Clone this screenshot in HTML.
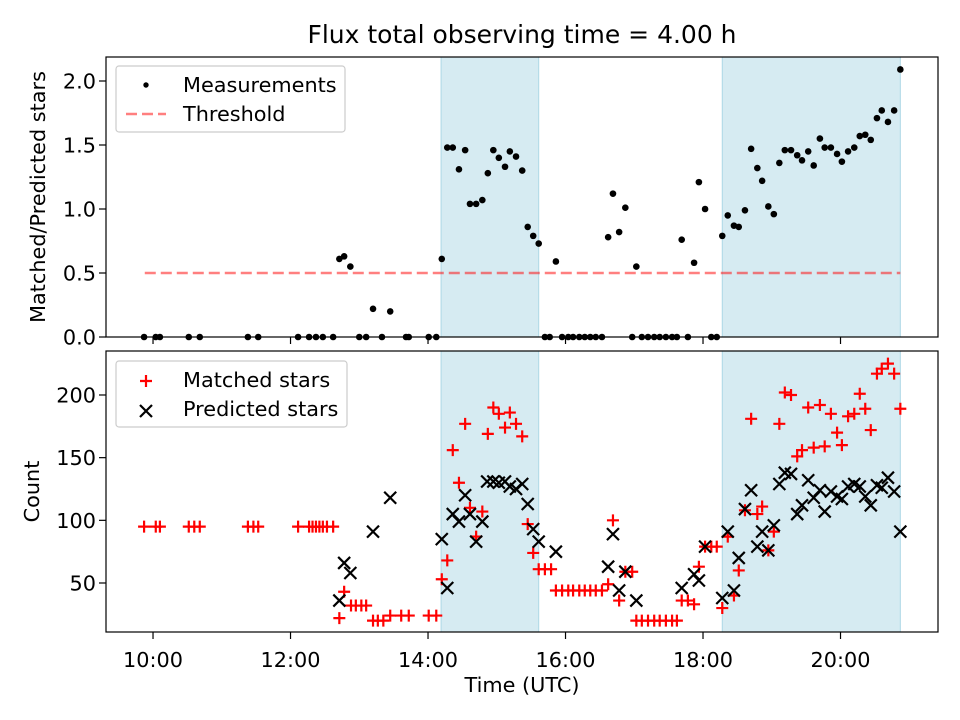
<!DOCTYPE html>
<html><head><meta charset="utf-8"><style>
body{margin:0;background:#fff}
svg{display:block;font-family:"DejaVu Sans","Liberation Sans",sans-serif}
</style></head><body>
<svg id="chart" width="960" height="720" viewBox="0 0 960 720"></svg>
<script>
const ratioTimes=[9.87,10.04,10.10,10.52,10.68,11.38,11.53,12.11,12.27,12.37,12.47,12.62,12.71,12.78,12.87,13.00,13.10,13.20,13.33,13.45,13.68,13.72,14.01,14.12,14.20,14.28,14.36,14.45,14.54,14.61,14.70,14.79,14.87,14.95,15.03,15.12,15.19,15.28,15.37,15.45,15.53,15.61,15.70,15.77,15.86,15.95,16.04,16.11,16.20,16.28,16.36,16.44,16.53,16.62,16.69,16.78,16.87,16.97,17.03,17.11,17.20,17.29,17.37,17.46,17.55,17.62,17.69,17.78,17.87,17.94,18.03,18.12,18.20,18.28,18.36,18.45,18.52,18.61,18.70,18.79,18.86,18.95,19.03,19.11,19.19,19.28,19.37,19.44,19.53,19.61,19.70,19.77,19.86,19.95,20.02,20.11,20.20,20.28,20.36,20.44,20.53,20.60,20.69,20.78,20.87];
const ratioValues=[0,0,0,0,0,0,0,0,0,0,0,0,0.61,0.63,0.55,0,0,0.22,0,0.20,0,0,0,0,0.61,1.48,1.48,1.31,1.46,1.04,1.04,1.07,1.28,1.46,1.40,1.33,1.45,1.41,1.30,0.86,0.79,0.73,0,0,0.59,0,0,0,0,0,0,0,0,0.78,1.12,0.82,1.01,0,0.55,0,0,0,0,0,0,0,0.76,0,0.58,1.21,1.00,0,0,0.79,0.95,0.87,0.86,0.99,1.47,1.32,1.22,1.02,0.96,1.36,1.46,1.46,1.42,1.38,1.45,1.34,1.55,1.48,1.48,1.43,1.37,1.45,1.48,1.57,1.58,1.54,1.71,1.77,1.68,1.77,2.09];
const matchedTimes=[9.87,10.04,10.10,10.52,10.60,10.68,11.38,11.46,11.53,12.11,12.27,12.32,12.37,12.42,12.47,12.53,12.62,12.71,12.78,12.88,12.95,13.03,13.10,13.20,13.27,13.35,13.45,13.61,13.72,14.01,14.12,14.20,14.28,14.36,14.45,14.54,14.61,14.70,14.79,14.87,14.95,15.03,15.12,15.19,15.28,15.37,15.45,15.53,15.61,15.70,15.79,15.86,15.95,16.04,16.11,16.20,16.28,16.36,16.44,16.53,16.62,16.69,16.78,16.87,16.97,17.03,17.11,17.20,17.29,17.37,17.46,17.55,17.62,17.69,17.78,17.87,17.94,18.03,18.12,18.20,18.28,18.36,18.45,18.52,18.61,18.70,18.79,18.86,18.95,19.03,19.11,19.19,19.28,19.37,19.44,19.53,19.61,19.70,19.77,19.86,19.95,20.02,20.11,20.20,20.28,20.36,20.44,20.53,20.60,20.69,20.78,20.87];
const matchedValues=[95,95,95,95,95,95,95,95,95,95,95,95,95,95,95,95,95,22,43,32,32,32,32,20,20,20,24,24,24,24,24,53,68,156,130,177,110,87,107,169,190,185,174,186,177,167,97,74,61,61,61,44,44,44,44,44,44,44,44,44,49,100,36,59,59,20,20,20,20,20,20,20,20,36,36,33,63,79,79,79,30,87,40,60,108,181,105,111,76,91,177,202,200,151,156,190,158,192,159,185,170,160,183,185,201,189,172,217,221,225,217,189];
const predictedTimes=[12.71,12.78,12.87,13.20,13.45,14.20,14.28,14.36,14.45,14.54,14.61,14.70,14.79,14.86,14.95,15.03,15.12,15.19,15.28,15.37,15.45,15.53,15.61,15.86,16.62,16.69,16.78,16.87,17.03,17.69,17.87,17.94,18.03,18.28,18.36,18.45,18.52,18.61,18.70,18.79,18.86,18.95,19.03,19.11,19.19,19.28,19.37,19.44,19.53,19.61,19.70,19.77,19.86,19.95,20.02,20.11,20.20,20.28,20.36,20.44,20.53,20.60,20.69,20.78,20.87];
const predictedValues=[36,66,58,91,118,85,46,105,99,120,105,83,99,131,131,130,131,127,125,129,113,93,83,75,63,89,44,59,36,46,57,52,79,38,91,44,70,109,124,79,91,76,96,129,138,137,105,112,132,118,124,107,123,119,117,127,129,127,119,112,128,126,134,123,91];
const shadeRanges=[[14.19,15.61],[18.28,20.87]];
const thresholdValue=0.5, thresholdRange=[9.88,20.87];
const xTicks=[10,12,14,16,18,20];
const xTickLabels=["10:00","12:00","14:00","16:00","18:00","20:00"];
const topYTicks=[0,0.5,1,1.5,2];
const topYTickLabels=["0.0","0.5","1.0","1.5","2.0"];
const botYTicks=[50,100,150,200];
const botYTickLabels=["50","100","150","200"];

const NS="http://www.w3.org/2000/svg";
const svg=document.getElementById('chart');
function mk(tag,attrs,parent,text){const e=document.createElementNS(NS,tag);for(const k in attrs)e.setAttribute(k,attrs[k]);if(text!==undefined)e.textContent=text;(parent||svg).appendChild(e);return e;}
const L=106,R=938;
const FS=20.8;
const xDom=[9.316,21.418];
function xs(t){return L+(t-xDom[0])/(xDom[1]-xDom[0])*(R-L);}
const topP={t:57,b:337,d0:0,d1:2.1875};
const botP={t:351,b:632,d0:10.9,d1:235.1};
function ys(p,v){return p.b-(v-p.d0)/(p.d1-p.d0)*(p.b-p.t);}

function panel(p,name,yTicks,yLabels,yTitle,ytx){
  const g=mk('g',{});
  
  
  shadeRanges.forEach(r=>{
    const s=mk('rect',{x:xs(r[0]),y:p.t,width:xs(r[1])-xs(r[0]),height:p.b-p.t,fill:'#add8e6','fill-opacity':0.5,stroke:'#add8e6','stroke-width':1},g);
    
    
  });
  xTicks.forEach((t)=>{
    mk('line',{x1:xs(t),x2:xs(t),y1:p.b,y2:p.b+7,stroke:'#000','stroke-width':1.2},g);
  });
  yTicks.forEach((v,i)=>{
    const y=ys(p,v);
    mk('line',{x1:L-7,x2:L,y1:y,y2:y,stroke:'#000','stroke-width':1.2},g);
    const tl=mk('text',{x:L-10,y:y+7.5,'text-anchor':'end','font-size':FS},g,yLabels[i]);
    
    
  });
  const yt=mk('text',{x:0,y:0,'text-anchor':'middle','font-size':FS,transform:`translate(${ytx},${(p.t+p.b)/2}) rotate(-90)`},g,yTitle);
  
  
  return g;
}
const gt=panel(topP,'top-panel',topYTicks,topYTickLabels,'Matched/Predicted stars',45);
const gb=panel(botP,'bottom-panel',botYTicks,botYTickLabels,'Count',39);

const th=mk('line',{x1:xs(thresholdRange[0]),x2:xs(thresholdRange[1]),y1:ys(topP,thresholdValue),y2:ys(topP,thresholdValue),stroke:'#ff0000','stroke-opacity':0.5,'stroke-width':2.5,'stroke-dasharray':'11,5'},gt);


ratioTimes.forEach((t,i)=>{
  if(ratioValues[i]===undefined)return;
  const c=mk('circle',{cx:xs(t),cy:ys(topP,ratioValues[i]),r:3.3,fill:'#000'},gt);
  
  
});
function plus(g,x,y){return mk('path',{d:`M${x-6} ${y}H${x+6}M${x} ${y-6}V${y+6}`,stroke:'#ff0000','stroke-width':2.2,fill:'none'},g);}
function cross(g,x,y){return mk('path',{d:`M${x-6} ${y-6}L${x+6} ${y+6}M${x-6} ${y+6}L${x+6} ${y-6}`,stroke:'#000','stroke-width':2.2,fill:'none'},g);}
matchedTimes.forEach((t,i)=>{
  if(matchedValues[i]===undefined)return;
  const p=plus(gb,xs(t),ys(botP,matchedValues[i]));
  
  
});
predictedTimes.forEach((t,i)=>{
  if(predictedValues[i]===undefined)return;
  const p=cross(gb,xs(t),ys(botP,predictedValues[i]));
  
  
});
[topP,botP].forEach(p=>{
  const f=mk('rect',{x:L,y:p.t,width:R-L,height:p.b-p.t,fill:'none',stroke:'#000','stroke-width':1.2});
  
  
});
xTicks.forEach((t,i)=>{
  const tl=mk('text',{x:xs(t),y:botP.b+35,'text-anchor':'middle','font-size':FS},svg,xTickLabels[i]);
  
  
});
const xt=mk('text',{x:522,y:692,'text-anchor':'middle','font-size':FS},svg,'Time (UTC)');


const ti=mk('text',{x:522,y:43,'text-anchor':'middle','font-size':25},svg,'Flux total observing time = 4.00 h');


const lg1=mk('g',{});


mk('rect',{x:116,y:66,width:229,height:66,rx:3,fill:'#fff','fill-opacity':0.8,stroke:'#ccc','stroke-width':1.2},lg1);
mk('circle',{cx:146,cy:85,r:2.7,fill:'#000'},lg1);
mk('line',{x1:126,x2:166,y1:114,y2:114,stroke:'#ff0000','stroke-opacity':0.5,'stroke-width':2.5,'stroke-dasharray':'11,5'},lg1);
const t1=mk('text',{x:183,y:92,'font-size':FS},lg1,'Measurements');


const t2=mk('text',{x:183,y:121,'font-size':FS},lg1,'Threshold');


const lg2=mk('g',{});


mk('rect',{x:116,y:361,width:231,height:66,rx:3,fill:'#fff','fill-opacity':0.8,stroke:'#ccc','stroke-width':1.2},lg2);
plus(lg2,146,381);
cross(lg2,146,411);
const t3=mk('text',{x:183,y:387,'font-size':FS},lg2,'Matched stars');


const t4=mk('text',{x:183,y:416,'font-size':FS},lg2,'Predicted stars');


</script>
</body></html>
